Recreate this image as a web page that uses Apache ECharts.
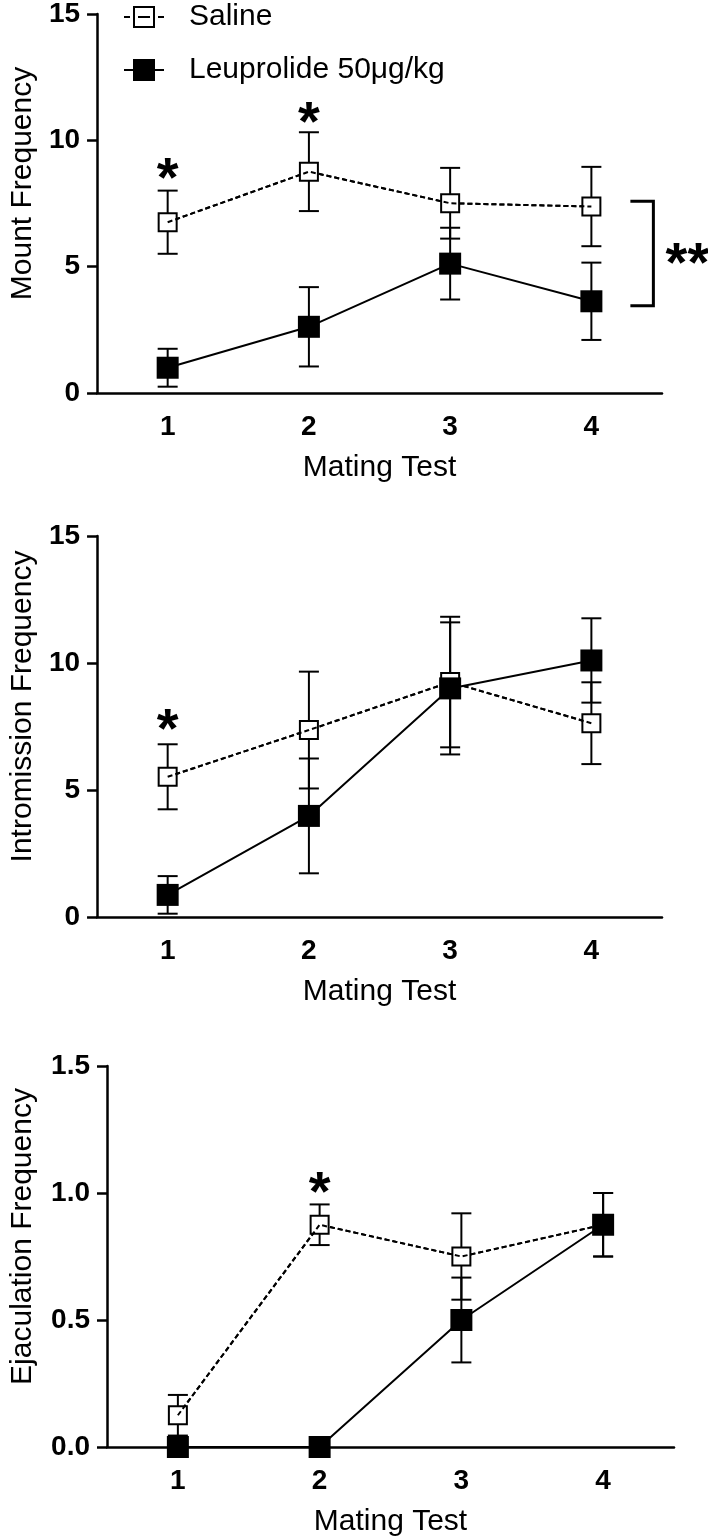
<!DOCTYPE html>
<html><head><meta charset="utf-8">
<script src="https://cdn.jsdelivr.net/npm/echarts@6/dist/echarts.min.js"></script>
<style>html,body{margin:0;padding:0;background:#fff}#c{width:708px;height:1540px}</style>
</head><body><div id="c"></div>
<script>
// ---- data ----
const categories = ['1', '2', '3', '4'];
const seriesNames = ['Saline', 'Leuprolide 50μg/kg'];
const xTitle = 'Mating Test';
const yTitles = ['Mount Frequency', 'Intromission Frequency', 'Ejaculation Frequency'];

const mountSaline = [6.76, 8.76, 7.51, 7.38];
const mountSalineSem = [1.25, 1.56, 1.40, 1.57];
const mountLeup = [1.00, 2.62, 5.12, 3.63];
const mountLeupSem = [0.75, 1.57, 1.42, 1.53];

const introSaline = [5.52, 7.36, 9.25, 7.63];
const introSalineSem = [1.28, 2.30, 2.57, 1.61];
const introLeup = [0.87, 3.98, 9.00, 10.10];
const introLeupSem = [0.74, 2.26, 2.60, 1.66];

const ejacSaline = [0.125, 0.875, 0.75, 0.875];
const ejacSalineSem = [0.08, 0.08, 0.17, 0.125];
const ejacLeup = [0, 0, 0.5, 0.875];
const ejacLeupSem = [0, 0, 0.167, 0.125];

// y axis ticks
const yAxisTicks = [
  { min: 0, max: 15, interval: 5 },
  { min: 0, max: 15, interval: 5 },
  { min: 0, max: 1.5, interval: 0.5 }
];

// significance marks: [categoryIndex, value]
const mountStars = [[0, 8.88], [1, 11.09]];
const introStars = [[0, 7.76]];
const ejacStars = [[1, 1.043]];
// bracket between groups at test 4 (top value, bottom value)
const mountBracket = [[3, 7.59, 3.45]];

// ---- chart ----
const FONT = '"Liberation Sans", Arial, sans-serif';
const chart = echarts.init(document.getElementById('c'), null, { renderer: 'canvas' });

const grids = [
  { left: 91, top: 13, width: 571, height: 380 },
  { left: 91, top: 536, width: 571, height: 381 },
  { left: 103, top: 1066, width: 571, height: 381 }
];
const nameGaps = [57, 57, 69];

function errData(mean, sem) {
  return mean.map((m, i) => [i, m - sem[i], m + sem[i]]);
}
function renderErr(params, api) {
  const x = api.value(0);
  const lo = api.coord([x, api.value(1)]);
  const hi = api.coord([x, api.value(2)]);
  const hw = 10;
  const st = { stroke: '#000', lineWidth: 2 };
  return { type: 'group', children: [
    { type: 'line', shape: { x1: lo[0], y1: lo[1], x2: hi[0], y2: hi[1] }, style: st },
    { type: 'line', shape: { x1: lo[0] - hw, y1: lo[1], x2: lo[0] + hw, y2: lo[1] }, style: st },
    { type: 'line', shape: { x1: hi[0] - hw, y1: hi[1], x2: hi[0] + hw, y2: hi[1] }, style: st }
  ]};
}
function renderStar(params, api) {
  const c = api.coord([api.value(0), api.value(1)]);
  return { type: 'text', x: c[0], y: c[1] + 12, style: {
    text: '*', font: 'bold 56px ' + FONT, fill: '#000', align: 'center', verticalAlign: 'middle' } };
}
function renderBracket(params, api) {
  const x = api.value(0);
  const t = api.coord([x, api.value(1)]);
  const b = api.coord([x, api.value(2)]);
  const xl = t[0] + 39, xr = t[0] + 62;
  return { type: 'group', children: [
    { type: 'polyline', shape: { points: [[xl, t[1]], [xr, t[1]], [xr, b[1]], [xl, b[1]]] },
      style: { stroke: '#000', lineWidth: 3, fill: null } },
    { type: 'text', x: xr + 34, y: (t[1] + b[1]) / 2 + 12, style: {
      text: '**', font: 'bold 56px ' + FONT, fill: '#000', align: 'center', verticalAlign: 'middle' } }
  ]};
}

const xAxes = grids.map((g, i) => ({
  type: 'category', gridIndex: i, data: categories, boundaryGap: true,
  name: xTitle, nameLocation: 'middle', nameGap: 60,
  nameTextStyle: { fontFamily: FONT, fontSize: 30, color: '#000' },
  axisLine: { lineStyle: { color: '#000', width: 2.5 } },
  axisTick: { alignWithLabel: true, length: 10, lineStyle: { color: '#000', width: 2.5 } },
  axisLabel: { fontFamily: FONT, fontSize: 28, fontWeight: 'bold', color: '#000', margin: 20 },
  splitLine: { show: false }
}));
const yAxes = grids.map((g, i) => ({
  type: 'value', gridIndex: i,
  min: yAxisTicks[i].min, max: yAxisTicks[i].max, interval: yAxisTicks[i].interval,
  name: yTitles[i], nameLocation: 'middle', nameGap: nameGaps[i],
  nameTextStyle: { fontFamily: FONT, fontSize: 30, color: '#000', padding: [0, 0, 0, 40] },
  axisLine: { show: true, lineStyle: { color: '#000', width: 2.5 } },
  axisTick: { show: true, length: 10, lineStyle: { color: '#000', width: 2.5 } },
  axisLabel: { fontFamily: FONT, fontSize: 28, fontWeight: 'bold', color: '#000', margin: 17,
    formatter: i === 2 ? (v => v.toFixed(1)) : (v => String(v)) },
  splitLine: { show: false }
}));

const panels = [
  [mountSaline, mountSalineSem, mountLeup, mountLeupSem, mountStars],
  [introSaline, introSalineSem, introLeup, introLeupSem, introStars],
  [ejacSaline, ejacSalineSem, ejacLeup, ejacLeupSem, ejacStars]
];
const dashed = { color: '#000', width: 2, type: [5, 3] };
const series = [];
panels.forEach((p, i) => {
  const [sm, ss, lm, ls, stars] = p;
  series.push({ type: 'custom', xAxisIndex: i, yAxisIndex: i, renderItem: renderErr,
    data: errData(sm, ss), encode: { x: 0, y: [1, 2] }, z: 2, silent: true });
  series.push({ type: 'custom', xAxisIndex: i, yAxisIndex: i, renderItem: renderErr,
    data: errData(lm, ls), encode: { x: 0, y: [1, 2] }, z: 2, silent: true });
  series.push({ name: seriesNames[0], type: 'line', xAxisIndex: i, yAxisIndex: i, data: sm,
    symbol: 'rect', symbolSize: 18, showAllSymbol: true, z: 3,
    itemStyle: { color: '#fff', borderColor: '#000', borderWidth: 2 },
    lineStyle: dashed });
  // dashed connector drawn over the open squares, as in the original
  series.push({ type: 'line', xAxisIndex: i, yAxisIndex: i, data: sm, showSymbol: false,
    symbol: 'none', z: 3.5, silent: true, lineStyle: dashed });
  series.push({ name: seriesNames[1], type: 'line', xAxisIndex: i, yAxisIndex: i, data: lm,
    symbol: 'rect', symbolSize: 22, showAllSymbol: true, z: 4,
    itemStyle: { color: '#000', borderColor: '#000', borderWidth: 0 },
    lineStyle: { color: '#000', width: 2, type: 'solid' } });
  series.push({ type: 'custom', xAxisIndex: i, yAxisIndex: i, renderItem: renderStar,
    data: stars, encode: { x: 0, y: 1 }, z: 5, silent: true, clip: false });
});
series.push({ type: 'custom', xAxisIndex: 0, yAxisIndex: 0, renderItem: renderBracket,
  data: mountBracket, encode: { x: 0, y: [1, 2] }, z: 5, silent: true, clip: false });

chart.setOption({
  animation: false,
  backgroundColor: '#fff',
  grid: grids,
  xAxis: xAxes,
  yAxis: yAxes,
  legend: {
    data: [
      { name: seriesNames[0], icon: 'path://M0,10H6M10,0H30V20H10ZM14,10H26M34,10H40',
        itemStyle: { color: '#fff', borderColor: '#000', borderWidth: 2 } },
      { name: seriesNames[1], icon: 'path://M0,10H40M10,0H30V20H10Z',
        itemStyle: { color: '#000', borderColor: '#000', borderWidth: 2 } }
    ],
    orient: 'vertical', left: 123, top: 2, padding: 0,
    itemWidth: 40, itemHeight: 20, itemGap: 23, selectedMode: false,
    textStyle: { fontFamily: FONT, fontSize: 30, color: '#000', padding: [0, 0, 0, 20] }
  },
  series: series
});
</script>
</body></html>
